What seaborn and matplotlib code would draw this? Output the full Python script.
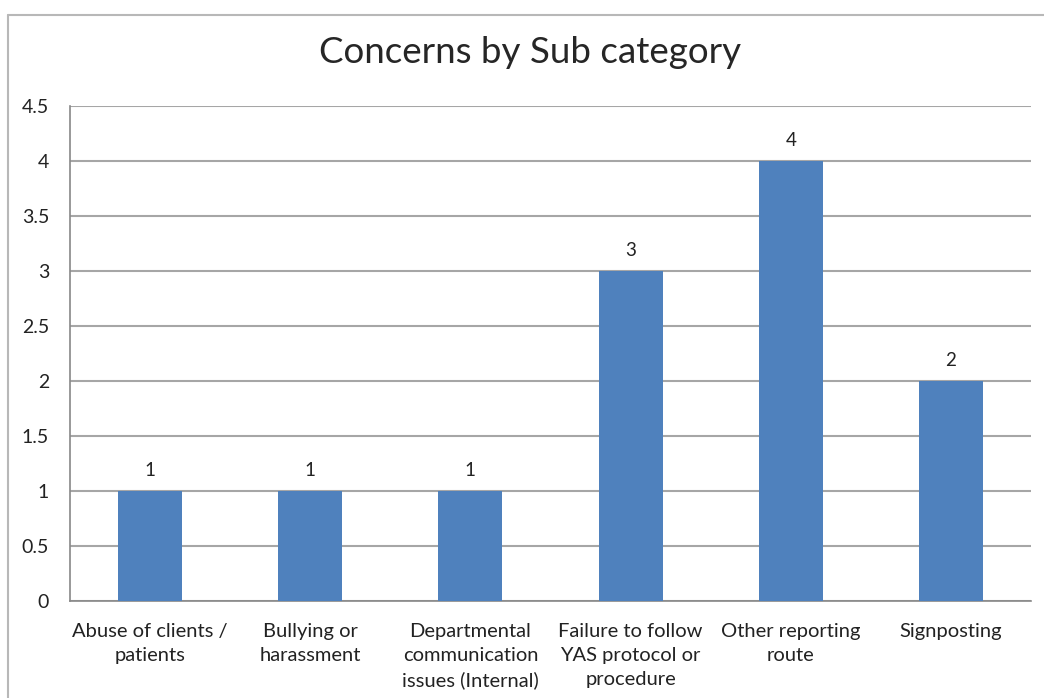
#!/usr/bin/env python3

import matplotlib.pyplot as plt
import numpy as np
import pandas as pd
import seaborn as sns
from matplotlib.lines import Line2D

categories = ["Abuse of clients /\npatients", "Bullying or\nharassment",
              "Departmental\ncommunication\nissues (Internal)",
              "Failure to follow\nYAS protocol or\nprocedure",
              "Other reporting\nroute", "Signposting"]
counts = [1, 1, 1, 3, 4, 2]
y_ticks = [0, 0.5, 1, 1.5, 2, 2.5, 3, 3.5, 4, 4.5]
y_labels = ["0", "0.5", "1", "1.5", "2", "2.5", "3", "3.5", "4", "4.5"]

df = pd.DataFrame({'cat': categories, 'n': counts})

sns.set_style("white")
plt.rcParams['font.family'] = ['Lato', 'DejaVu Sans']

fig = plt.figure(figsize=(10.44, 6.98), dpi=100)
ax = fig.add_axes([70 / 1044, 1 - 601 / 698, (1031 - 70) / 1044, (601 - 106) / 698])

sns.barplot(data=df, x='cat', y='n', color='#4F81BD', saturation=1, width=0.4,
            linewidth=0, ax=ax, zorder=3)

ax.set_ylim(0, 4.5)
ax.set_xlim(-0.5, len(categories) - 0.5)
ax.set_yticks(y_ticks)
ax.set_yticklabels(y_labels, fontsize=14, color='#222222')
ax.yaxis.grid(True, color='#A6A6A6', linewidth=1.5, zorder=0)
ax.set_axisbelow(True)
ax.set_xlabel('')
ax.set_ylabel('')

for s in ['top', 'right']:
    ax.spines[s].set_visible(False)
for s in ['left', 'bottom']:
    ax.spines[s].set_color('#888888')
    ax.spines[s].set_linewidth(1.2)

ax.tick_params(axis='y', length=6, color='#888888', width=1.2, pad=9)
ax.set_xticks(range(len(categories)), labels=categories, linespacing=1.5,
              fontsize=14.5, color='#222222')
ax.tick_params(axis='x', which='major', length=0, pad=16)
ax.set_xticks(np.arange(-0.5, len(categories)), minor=True)
ax.tick_params(axis='x', which='minor', length=6, color='#888888', width=1.2)

for c in ax.containers:
    ax.bar_label(c, fmt='%g', padding=9, fontsize=13.5, color='#222222')

fig.suptitle("Concerns by Sub category", x=530 / 1044, y=1 - 36 / 698, va='top', fontsize=26.5)

# outer chart border
fig.add_artist(Line2D([8 / 1044, 1], [1 - 15 / 698, 1 - 15 / 698], color='#B8B8B8', lw=1.5))
fig.add_artist(Line2D([8 / 1044, 8 / 1044], [0, 1 - 15 / 698], color='#B8B8B8', lw=1.5))

plt.savefig("out.png", dpi=100)
plt.close()
